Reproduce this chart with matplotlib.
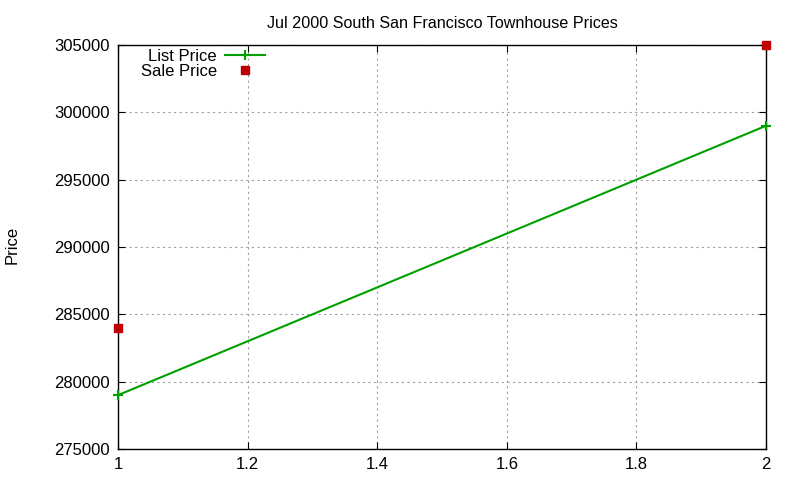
import matplotlib
matplotlib.use("Agg")
import matplotlib.pyplot as plt

plt.rcParams['font.family'] = ['Liberation Sans', 'DejaVu Sans']

x_vals = [1, 2]
list_price = [279000, 299000]
sale_price = [284000, 305000]
title = "Jul 2000 South San Francisco Townhouse Prices"
ylabel = "Price"
xticks = [1, 1.2, 1.4, 1.6, 1.8, 2]
yticks = [275000, 280000, 285000, 290000, 295000, 300000, 305000]

fig = plt.figure(figsize=(8, 4.8), dpi=100)
ax = fig.add_axes([118/800, 1 - 449/480, (766-118)/800, (449-45)/480])

ax.plot(x_vals, list_price, color='#00a000', lw=1.5, marker='+', ms=7, mew=1.5,
        label='List Price', clip_on=False, zorder=3)
ax.plot(x_vals, sale_price, color='#c00000', lw=0, marker='s', ms=6,
        label='Sale Price', clip_on=False, zorder=3)

ax.set_xlim(1, 2)
ax.set_ylim(275000, 305000)
ax.set_xticks(xticks)
ax.set_xticklabels(['1', '1.2', '1.4', '1.6', '1.8', '2'])
ax.set_yticks(yticks)
ax.set_yticklabels([str(v) for v in yticks])
ax.tick_params(direction='in', top=True, right=True, length=5, labelsize=12, pad=6, colors='black')
ax.grid(True, color='#a0a0a0', linestyle=(0, (2, 3)), linewidth=0.8)
for s in ax.spines.values():
    s.set_linewidth(1.0)

ax.set_title(title, fontsize=11.6, pad=12)
fig.text(12/800, 1 - 245/480, ylabel, rotation=90, fontsize=12, va='center', ha='center')

leg = ax.legend(loc='upper left', bbox_to_anchor=(0.02, 1.015), frameon=False, markerfirst=False,
                fontsize=12, handlelength=2.4, handletextpad=0.5, labelspacing=0.0, borderaxespad=0.2)

fig.savefig('out.png', dpi=100)
